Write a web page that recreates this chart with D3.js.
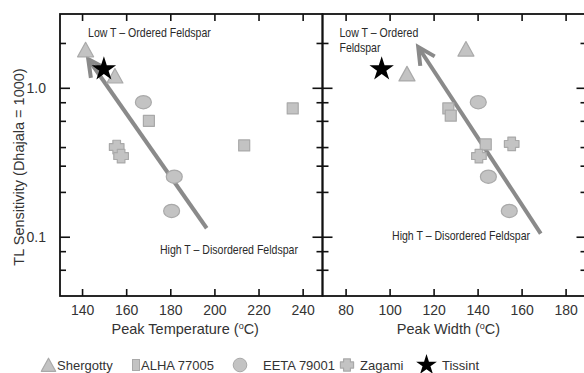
<!DOCTYPE html>
<html>
<head>
<meta charset="utf-8">
<script src="https://cdn.jsdelivr.net/npm/d3@7"></script>
<style>
  body { margin: 0; background: #fff; }
  text { font-family: "Liberation Sans", Arial, sans-serif; fill: #333; }
  .note { font-size: 12px; fill: #2a2a2a; }
</style>
</head>
<body>
<svg id="chart" width="584" height="373"></svg>
<script>
// series names (legend order)
const seriesNames = ['Shergotty', 'ALHA 77005', 'EETA 79001', 'Zagami', 'Tissint'];
const seriesShape = ['triangle', 'square', 'circle', 'zagami', 'star'];

// y: TL sensitivity, peak temperature panel
const shergottyTL = [1.80, 1.20];
const alhaTL = [0.60, 0.41, 0.727];
const eetaTL = [0.80, 0.253, 0.149];
const zagamiTL = [0.40, 0.348];
const tissintTL = [1.335];

// y: TL sensitivity, peak width panel
const shergottyTLw = [1.82, 1.24];
const alhaTLw = [0.727, 0.65, 0.417];
const eetaTLw = [0.80, 0.253, 0.149];
const zagamiTLw = [0.42, 0.348];
const tissintTLw = [1.335];

// x: peak temperature (oC)
const shergottyTemp = [141.6, 154.9];
const alhaTemp = [170.3, 213.5, 235.5];
const eetaTemp = [167.8, 181.8, 180.6];
const zagamiTemp = [155.7, 157.7];
const tissintTemp = [149.9];

// x: peak width (oC)
const shergottyWidth = [134.7, 107.9];
const alhaWidth = [126.7, 127.8, 143.7];
const eetaWidth = [140.3, 144.9, 154.4];
const zagamiWidth = [155.5, 140.6];
const tissintWidth = [96.4];

// trend arrows [x, y] tail -> head
const tempArrow = [[196.5, 0.114], [142.8, 1.56]];
const widthArrow = [[168.7, 0.105], [113.0, 1.88]];

// tick values
const yTicks = [0.06, 0.08, 0.1, 0.2, 0.3, 0.4, 0.6, 0.8, 1, 2];
const yMajor = [0.1, 1];
const tempTicks = [140, 160, 180, 200, 220, 240];
const widthTicks = [80, 100, 120, 140, 160, 180];

const svg = d3.select('#chart');
const plotTop = 14, plotBottom = 296;

const y = d3.scaleLog().domain([0.04, 3.13]).range([plotBottom, plotTop]);

const panels = [
  {
    x: d3.scaleLinear().domain([130, 249]).range([60, 322.5]),
    ticks: tempTicks,
    title: 'Peak Temperature (',
    xs: [shergottyTemp, alhaTemp, eetaTemp, zagamiTemp, tissintTemp],
    ys: [shergottyTL, alhaTL, eetaTL, zagamiTL, tissintTL],
    arrow: tempArrow,
    notes: [
      { x: 142.7, y: 2.2, lines: ['Low T \u2013 Ordered Feldspar'] },
      { x: 175.3, y: 0.0766, lines: ['High T \u2013 Disordered Feldspar'] }
    ]
  },
  {
    x: d3.scaleLinear().domain([69.5, 189.5]).range([322.5, 586.5]),
    ticks: widthTicks,
    title: 'Peak Width (',
    xs: [shergottyWidth, alhaWidth, eetaWidth, zagamiWidth, tissintWidth],
    ys: [shergottyTLw, alhaTLw, eetaTLw, zagamiTLw, tissintTLw],
    arrow: widthArrow,
    notes: [
      { x: 77.2, y: 2.19, lines: ['Low T \u2013 Ordered', 'Feldspar'] },
      { x: 101.1, y: 0.095, lines: ['High T \u2013 Disordered Feldspar'] }
    ]
  }
];

const fillGrey = '#c3c3c3', strokeGrey = '#a9a9a9';

function shapePath(kind, s) {
  // s = scale factor
  if (kind === 'triangle') return `M0,${-7.5*s}L${8*s},${7*s}L${-8*s},${7*s}Z`;
  if (kind === 'square') return `M${-5.5*s},${-5.5*s}h${11*s}v${11*s}h${-11*s}Z`;
  if (kind === 'zagami') {
    const a = 7.3*s, b = 6.8*s, c = 3.8*s, d = 3.4*s;
    return `M${-c},${-b}L${c},${-b}L${c},${-d}L${a},${-d}L${a},${d}L${c},${d}L${c},${b}L${-c},${b}L${-c},${d}L${-a},${d}L${-a},${-d}L${-c},${-d}Z`;
  }
  return null;
}

function drawMarker(g, kind, cx, cy, s) {
  if (kind === 'circle') {
    g.append('ellipse').attr('cx', cx).attr('cy', cy).attr('rx', 8*s).attr('ry', 6.6*s)
      .attr('fill', fillGrey).attr('stroke', strokeGrey).attr('stroke-width', 1.2);
  } else if (kind === 'star') {
    g.append('path').attr('d', d3.symbol(d3.symbolStar, 185*s*s)())
      .attr('transform', `translate(${cx},${cy})`).attr('fill', '#000');
  } else {
    g.append('path').attr('d', shapePath(kind, s))
      .attr('transform', `translate(${cx},${cy})`)
      .attr('fill', fillGrey).attr('stroke', strokeGrey).attr('stroke-width', 1.2)
      .attr('stroke-linejoin', 'round');
  }
}

panels.forEach((p, pi) => {
  const x = p.x;
  const [x0, x1] = x.range();
  const g = svg.append('g');

  // axes: ticks point inward on all four sides
  g.append('g').attr('transform', `translate(0,${plotBottom})`)
    .call(d3.axisBottom(x).tickValues(p.ticks).tickSize(-7).tickSizeOuter(0).tickPadding(9));
  g.append('g').attr('transform', `translate(0,${plotTop})`)
    .call(d3.axisTop(x).tickValues(p.ticks).tickSize(-7).tickSizeOuter(0).tickFormat(''));
  const lAxis = g.append('g').attr('transform', `translate(${x0},0)`)
    .call(d3.axisLeft(y).tickValues(yTicks).tickSize(-6).tickSizeOuter(0).tickPadding(14)
      .tickFormat(d => pi === 0 && yMajor.includes(d) ? d3.format('.1f')(d) : ''));
  const rAxis = g.append('g').attr('transform', `translate(${x1},0)`)
    .call(d3.axisRight(y).tickValues(yTicks).tickSize(-6).tickSizeOuter(0).tickFormat(''));

  lAxis.selectAll('.tick line').filter(d => yMajor.includes(d)).attr('x2', 10);
  rAxis.selectAll('.tick line').filter(d => yMajor.includes(d)).attr('x2', -10);
  g.selectAll('.domain').remove();
  g.selectAll('.tick line').attr('stroke', '#111').attr('stroke-width', 1.6);
  g.selectAll('.tick text').attr('font-size', 14).attr('fill', '#333')
    .attr('font-family', '"Liberation Sans", Arial, sans-serif');

  // frame
  g.append('rect').attr('x', x0).attr('y', plotTop).attr('width', x1 - x0).attr('height', plotBottom - plotTop)
    .attr('fill', 'none').attr('stroke', '#111').attr('stroke-width', 1.8);

  // x title with superscript o
  const title = g.append('text').attr('x', (x0 + x1) / 2 - 6).attr('y', 334)
    .attr('text-anchor', 'middle').attr('font-size', 14.5);
  title.append('tspan').text(p.title);
  title.append('tspan').attr('font-size', 9).attr('dy', -5).text('o');
  title.append('tspan').attr('dy', 5).text('C)');

  // notes (narrow face: squeeze a regular face horizontally)
  p.notes.forEach(n => {
    const t = g.append('g').attr('transform', `translate(${x(n.x)},${y(n.y)}) scale(0.88,1)`)
      .append('text').attr('class', 'note');
    n.lines.forEach((l, i) => t.append('tspan').attr('x', 0).attr('dy', i ? 15 : 0).text(l));
  });

  // trend arrow
  const [tail, head] = p.arrow;
  const tx = x(tail[0]), ty = y(tail[1]), hx = x(head[0]), hy = y(head[1]);
  const ang = Math.atan2(ty - hy, tx - hx);
  const arm = 19, spread = 27 * Math.PI / 180;
  const arrowG = g.append('g').attr('fill', 'none').attr('stroke', '#8a8a8a').attr('stroke-width', 4);
  arrowG.append('line').attr('x1', tx).attr('y1', ty).attr('x2', hx + Math.cos(ang) * 1.5).attr('y2', hy + Math.sin(ang) * 1.5);
  arrowG.append('path')
    .attr('d', `M${hx + Math.cos(ang - spread) * arm},${hy + Math.sin(ang - spread) * arm}L${hx},${hy}L${hx + Math.cos(ang + spread) * arm},${hy + Math.sin(ang + spread) * arm}`)
    .attr('stroke-linejoin', 'miter');

  // markers: grey first, star on top
  const mg = g.append('g');
  seriesShape.forEach((kind, si) => {
    p.xs[si].forEach((v, i) => drawMarker(mg, kind, x(v), y(p.ys[si][i]), 1));
  });
});

// y title
svg.append('text').attr('transform', `translate(19,${(plotTop + plotBottom) / 2 + 12}) rotate(-90)`)
  .attr('text-anchor', 'middle').attr('dominant-baseline', 'central').attr('font-size', 14.5)
  .text('TL Sensitivity (Dhajala = 1000)');

// legend
const legendX = [48.5, 136, 240, 347, 426.5];
const legendTextX = [57, 141, 263, 360, 442];
const lg = svg.append('g');
seriesNames.forEach((name, i) => {
  const kind = seriesShape[i];
  if (kind === 'square') {
    lg.append('rect').attr('x', legendX[i] - 3.5).attr('y', 359.5).attr('width', 7).attr('height', 11)
      .attr('fill', fillGrey).attr('stroke', strokeGrey).attr('stroke-width', 1);
  } else if (kind === 'circle') {
    lg.append('circle').attr('cx', legendX[i]).attr('cy', 365).attr('r', 6.8)
      .attr('fill', fillGrey).attr('stroke', strokeGrey).attr('stroke-width', 1);
  } else {
    drawMarker(lg, kind, legendX[i], 365, kind === 'star' ? 0.85 : 0.9);
  }
  lg.append('text').attr('x', legendTextX[i]).attr('y', 370).attr('font-size', 13).text(name);
});
</script>
</body>
</html>
